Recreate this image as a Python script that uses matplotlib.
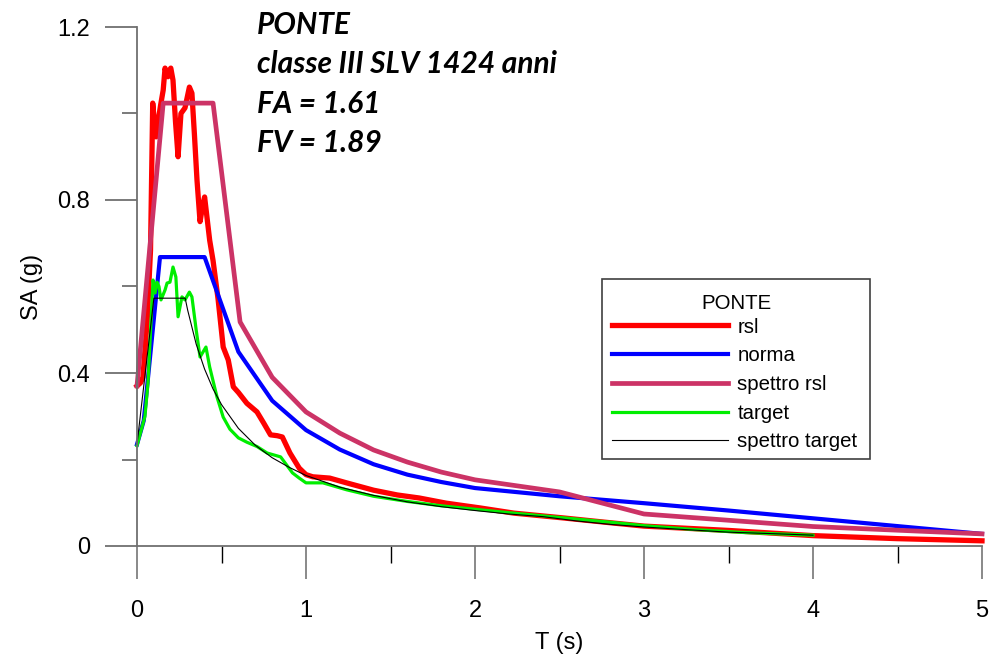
import matplotlib
matplotlib.use('Agg')
import matplotlib.pyplot as plt
from matplotlib.ticker import MultipleLocator
from matplotlib.patches import Rectangle

plt.rcParams['font.family'] = ['Liberation Sans', 'DejaVu Sans']

# rsl (risposta sismica locale)
t_rsl = [0, 0.02, 0.035, 0.06, 0.08, 0.093, 0.105, 0.113, 0.124, 0.14,
         0.155, 0.166, 0.175, 0.183, 0.192, 0.2, 0.213, 0.228, 0.243, 0.26,
         0.284, 0.31, 0.325, 0.34, 0.355, 0.373, 0.39, 0.40, 0.43, 0.45,
         0.48, 0.51, 0.54, 0.57, 0.6, 0.65, 0.71, 0.75, 0.79, 0.83,
         0.86, 0.905, 0.96, 1.0, 1.04, 1.14, 1.24, 1.4, 1.54, 1.67,
         1.83, 2.03, 2.23, 2.52, 2.82, 3.0, 3.2, 3.5, 4.0, 4.5, 5.0]
sa_rsl = [0.37, 0.377, 0.39, 0.52, 0.684, 1.024, 0.97, 0.946, 0.98, 1.02,
          1.054, 1.105, 1.09, 1.085, 1.1, 1.105, 1.077, 0.98, 0.90, 1.0,
          1.013, 1.061, 1.047, 0.95, 0.846, 0.75, 0.79, 0.807, 0.707, 0.66,
          0.57, 0.46, 0.43, 0.368, 0.355, 0.33, 0.31, 0.284, 0.257, 0.255,
          0.252, 0.215, 0.18, 0.165, 0.16, 0.157, 0.146, 0.129, 0.118, 0.111,
          0.099, 0.088, 0.076, 0.065, 0.053, 0.046, 0.042, 0.036, 0.024, 0.017, 0.012]

# spettro di norma
t_norma = [0, 0.04, 0.136, 0.40, 0.6, 0.8, 1.0, 1.2, 1.4, 1.6, 1.8, 2.0,
           2.5, 3.0, 3.5, 4.0, 4.5, 5.0]
sa_norma = [0.235, 0.29, 0.668, 0.668, 0.449, 0.336, 0.268, 0.223, 0.189, 0.165,
            0.148, 0.134, 0.115, 0.099, 0.082, 0.064, 0.046, 0.028]

# spettro rsl
t_sprsl = [0, 0.155, 0.45, 0.61, 0.8, 1.0, 1.2, 1.4, 1.6, 1.8, 2.0, 2.5, 3.0, 4.0, 5.0]
sa_sprsl = [0.37, 1.024, 1.024, 0.518, 0.39, 0.31, 0.261, 0.222, 0.194, 0.171,
            0.153, 0.125, 0.074, 0.045, 0.028]

# target
t_target = [0, 0.047, 0.065, 0.095, 0.107, 0.118, 0.13, 0.142, 0.166, 0.178,
            0.195, 0.213, 0.23, 0.243, 0.266, 0.284, 0.31, 0.325, 0.35, 0.373,
            0.408, 0.43, 0.473, 0.51, 0.55, 0.6, 0.65, 0.71, 0.77, 0.85,
            0.92, 0.96, 1.0, 1.1, 1.24, 1.4, 1.6, 1.8, 2.0, 2.2,
            2.5, 2.8, 3.0, 3.3, 3.6, 4.0]
sa_target = [0.232, 0.30, 0.377, 0.615, 0.585, 0.61, 0.60, 0.569, 0.592, 0.608,
             0.61, 0.645, 0.622, 0.53, 0.576, 0.569, 0.587, 0.576, 0.50, 0.437,
             0.46, 0.414, 0.345, 0.298, 0.27, 0.25, 0.24, 0.23, 0.215, 0.206,
             0.169, 0.157, 0.146, 0.146, 0.13, 0.115, 0.103, 0.093, 0.085, 0.077,
             0.066, 0.055, 0.047, 0.038, 0.031, 0.025]

# spettro target
t_sptarget = [0, 0.1, 0.285, 0.3, 0.35, 0.4, 0.45, 0.5, 0.6, 0.7, 0.8, 0.9, 1.0,
              1.2, 1.4, 1.6, 1.8, 2.0, 2.2, 2.4, 2.6, 2.8, 3.0, 3.2, 3.5, 3.8, 4.0]
sa_sptarget = [0.235, 0.573, 0.573, 0.545, 0.467, 0.409, 0.363, 0.327, 0.272, 0.233,
               0.204, 0.182, 0.163, 0.136, 0.117, 0.102, 0.091, 0.082, 0.074, 0.068,
               0.058, 0.050, 0.044, 0.039, 0.032, 0.028, 0.025]

note_lines = ['PONTE', 'classe III SLV 1424 anni', 'FA = 1.61', 'FV = 1.89']
legend_title = 'PONTE'

fig = plt.figure(figsize=(9.91, 6.57), dpi=100)
ax = fig.add_axes([137 / 991, 1 - 546 / 657, 845 / 991, 519 / 657])

ax.plot(t_rsl, sa_rsl, color='#ff0000', lw=3.8, label='rsl', clip_on=False)
ax.plot(t_norma, sa_norma, color='#0000ff', lw=3.0, label='norma', clip_on=False)
ax.plot(t_sprsl, sa_sprsl, color='#cc3366', lw=3.4, label='spettro rsl', clip_on=False)
ax.plot(t_target, sa_target, color='#00ee00', lw=2.3, label='target', clip_on=False)
ax.plot(t_sptarget, sa_sptarget, color='black', lw=0.8, label='spettro target', clip_on=False)

ax.set_xlim(0, 5)
ax.set_ylim(0, 1.2)
ax.xaxis.set_major_locator(MultipleLocator(1))
ax.xaxis.set_minor_locator(MultipleLocator(0.5))
ax.yaxis.set_minor_locator(MultipleLocator(0.2))
ax.set_yticks([0, 0.4, 0.8, 1.2])
ax.set_yticklabels(['0', '0.4', '0.8', '1.2'])

for s in ['top', 'right']:
    ax.spines[s].set_visible(False)
for s in ['left', 'bottom']:
    ax.spines[s].set_color('#707070')
    ax.spines[s].set_linewidth(1.3)

ax.tick_params(axis='x', which='major', length=24, width=1.3, color='#808080',
               pad=15, labelsize=17)
ax.tick_params(axis='x', which='minor', length=12, width=1.0, color='black')
ax.tick_params(axis='y', which='major', length=23, width=1.3, color='#707070',
               pad=11, labelsize=17)
ax.tick_params(axis='y', which='minor', length=11, width=1.3, color='#707070')

ax.set_xlabel('T (s)', fontsize=17, labelpad=7)
ax.set_ylabel('SA (g)', fontsize=17, labelpad=10)

# riquadro legenda con titolo
box = Rectangle((0.5503, 0.1676), 0.3172, 0.3468, transform=ax.transAxes,
                facecolor='white', edgecolor='#404040', lw=1.2, zorder=4.8)
ax.add_patch(box)
ax.text(0.7089, 0.468, legend_title, transform=ax.transAxes, fontsize=14.7,
        ha='center', va='center', zorder=5)
leg = ax.legend(loc='upper left', bbox_to_anchor=(0.562, 0.440),
                fontsize=14.7, frameon=False, handlelength=5.7, handletextpad=0.45,
                labelspacing=0.475, borderpad=0, borderaxespad=0)

baselines = [34, 73, 113, 152]
for line, yb in zip(note_lines, baselines):
    fig.text(257 / 991, 1 - yb / 657, line, fontsize=21.5, fontweight='bold',
             fontstyle='italic', family=['Lato', 'DejaVu Sans'], va='baseline', ha='left')

fig.savefig('out.png', dpi=100)
